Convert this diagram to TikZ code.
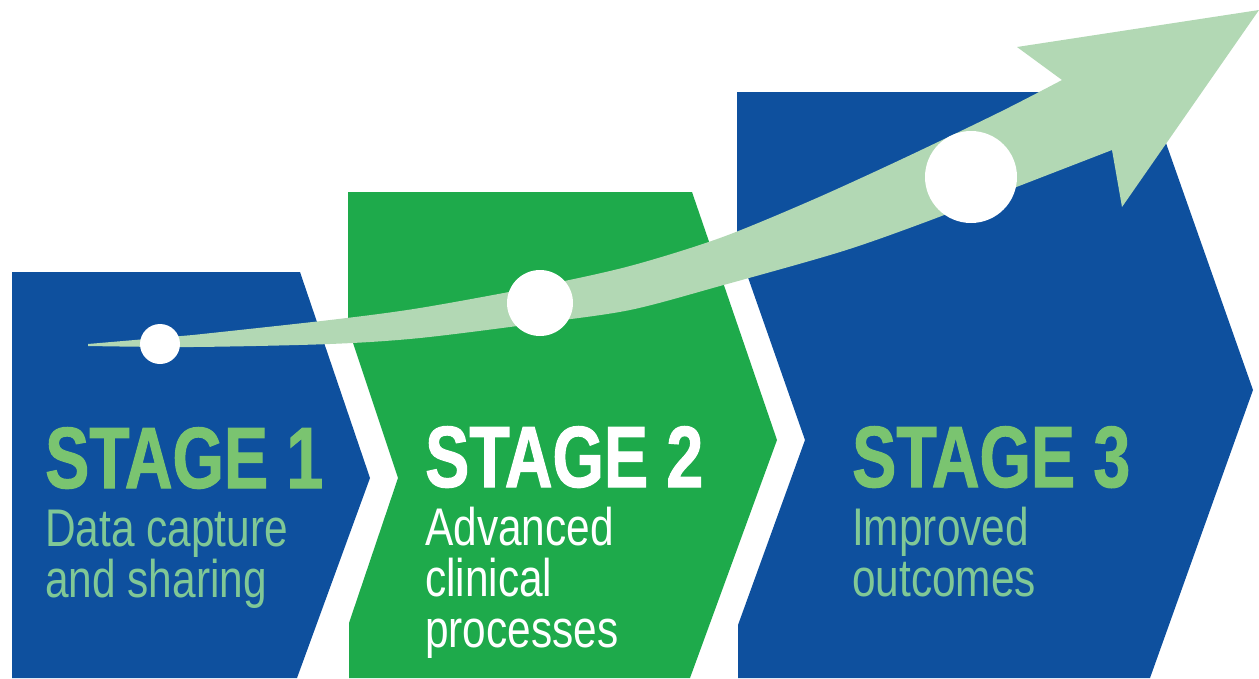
\documentclass[tikz,border=0pt]{standalone}
\usepackage{fontspec}
\newfontfamily\headfont{Liberation Sans}[FakeStretch=0.76, FakeBold=1.2]
\newfontfamily\subfont{Liberation Sans}[FakeStretch=0.8]
\usetikzlibrary{positioning, calc}

\definecolor{stageblue}{RGB}{14,80,158}
\definecolor{stagegreen}{RGB}{30,170,75}
\definecolor{bandgreen}{RGB}{178,216,180}
\definecolor{headgreen}{RGB}{122,196,112}
\definecolor{subgreen}{RGB}{128,200,150}

\begin{document}
\begin{tikzpicture}[
  x=1pt, y=-1pt,
  stagebox/.style = {fill=stageblue},
  headtext/.style = {anchor=base west, inner sep=0pt, headgreen,
                     font=\headfont\bfseries\fontsize{87}{87}\selectfont},
  subtext/.style  = {anchor=base west, inner sep=0pt, align=left, subgreen,
                     font=\subfont\fontsize{53}{51}\selectfont},
  dot/.style      = {circle, fill=white, inner sep=0pt}
]
  \useasboundingbox (0,0) rectangle (1259,678);

  % the three stages
  \fill[stagebox] (12,272) -- (300,272) -- (370,478) -- (297,678) -- (12,678) -- cycle;
  \fill[stagebox, fill=stagegreen] (348,192) -- (692,192) -- (777,440) -- (690,678)
    -- (349,678) -- (349,623) -- (398,478) -- (348,328) -- cycle;
  \fill[stagebox] (737,92) -- (1148,92) -- (1253,390) -- (1150,678)
    -- (738,678) -- (738,625) -- (805,440) -- (737,246) -- cycle;

  % rising arrow
  \fill[bandgreen] (88,344)
    -- plot[smooth, tension=0.5] coordinates {(193,335) (330,320) (420,308) (540,286)
         (630,266) (720,238) (810,201) (900,160) (1000,112) (1062,80)}
    -- (1017,47) -- (1259,10) -- (1122,207) -- (1112,150)
    -- plot[smooth, tension=0.5] coordinates {(1019,186) (923,223) (840,252) (720,286)
         (630,310) (540,323) (420,338) (330,344) (193,347) (88,346)}
    -- cycle;

  \node[dot, minimum size=40] (dot1) at (160,344) {};
  \node[dot, minimum size=66] (dot2) at (540,303) {};
  \node[dot, minimum size=92] (dot3) at (971,177) {};

  % labels (subtitles sit on their last line)
  \node[headtext] (head1) at (45,488) {STAGE 1};
  \node[subtext] (text1) at (45,597) {Data capture\\and sharing};

  \node[headtext, white] (head2) at (425,487) {STAGE 2};
  \node[subtext, white] (text2) at (425,647) {Advanced\\clinical\\processes};

  \node[headtext] (head3) at (852,487) {STAGE 3};
  \node[subtext] (text3) at (852,596) {Improved\\outcomes};

\end{tikzpicture}
\end{document}
